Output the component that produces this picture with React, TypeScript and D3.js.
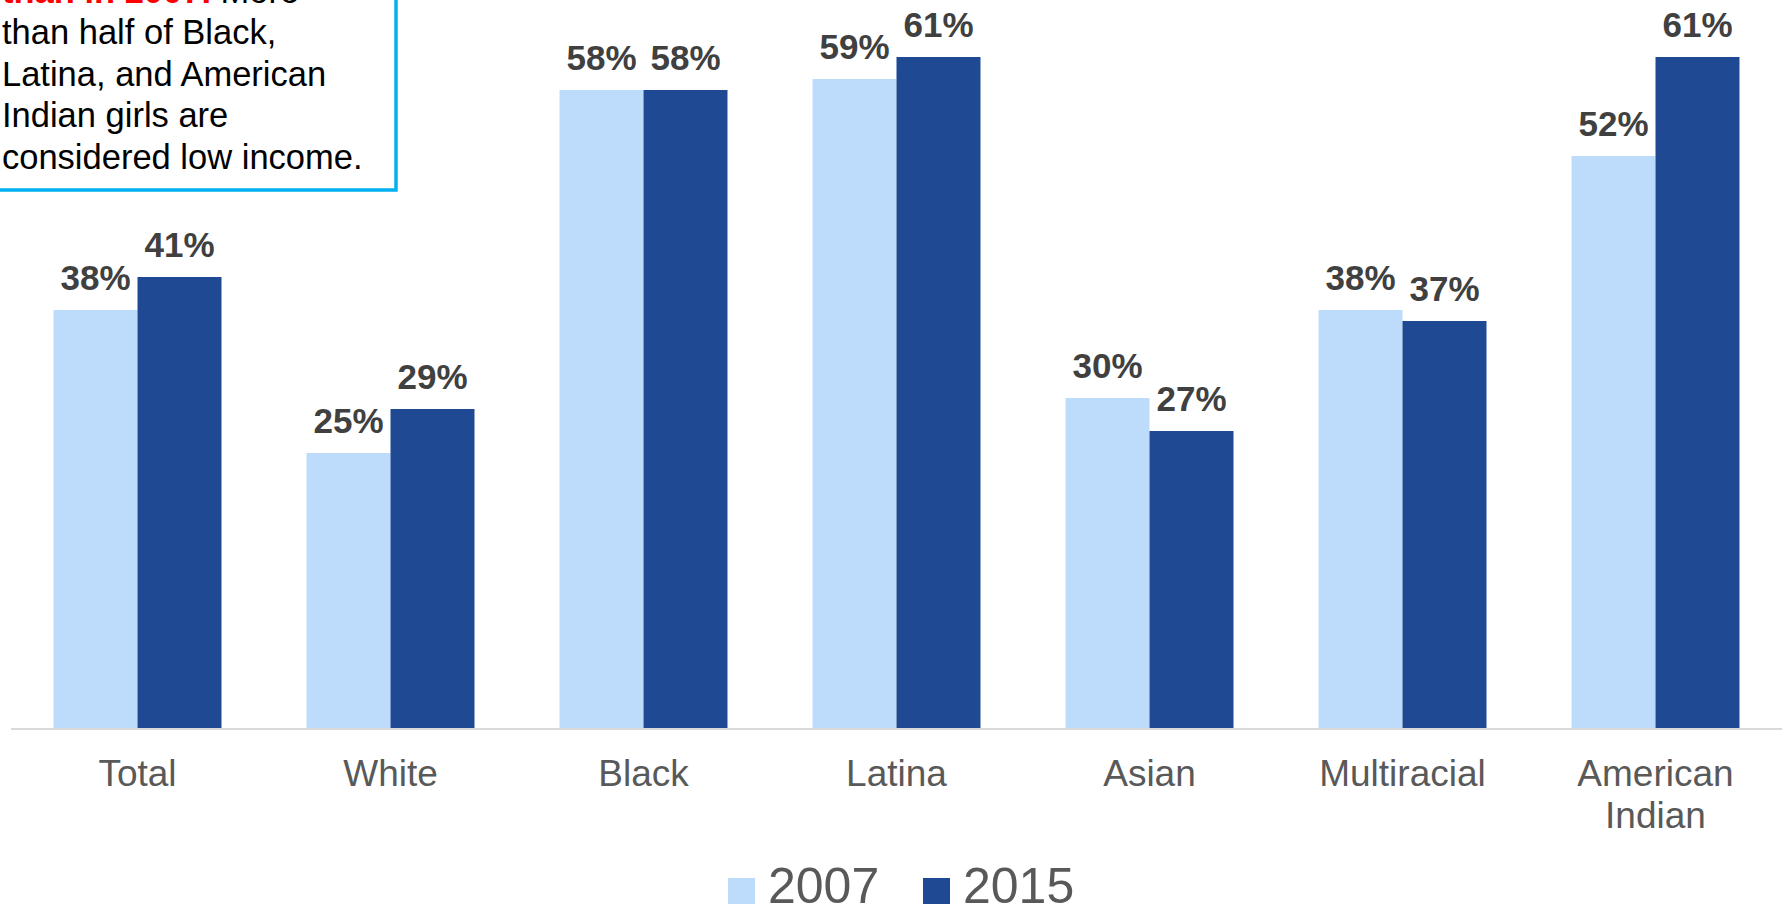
import React from "react";
import * as d3 from "d3";

const categories: string[][] = [
  ["Total"],
  ["White"],
  ["Black"],
  ["Latina"],
  ["Asian"],
  ["Multiracial"],
  ["American", "Indian"],
];
const seriesNames = ["2007", "2015"];
const values2007 = [0.38, 0.25, 0.58, 0.59, 0.3, 0.38, 0.52];
const values2015 = [0.41, 0.29, 0.58, 0.61, 0.27, 0.37, 0.61];
const seriesColors = ["#BDDCFC", "#1F4A93"];
const annotationLines = [
  "than half of Black,",
  "Latina, and American",
  "Indian girls are",
  "considered low income.",
];

const W = 1787;
const H = 912;
const FONT = "'Liberation Sans', Arial, sans-serif";

export default function App() {
  const catKeys = categories.map((c) => c.join(" "));
  const x = d3
    .scaleBand<string>()
    .domain(catKeys)
    .range([11, 1782])
    .paddingInner(0.336)
    .paddingOuter(0.168);
  const xs = d3.scaleBand<string>().domain(seriesNames).range([0, x.bandwidth()]);
  const baseY = 728;
  const y = d3.scaleLinear().domain([0, 0.7]).range([baseY, baseY - 770]);
  const series = [values2007, values2015];
  const fmt = d3.format(".0%");

  return (
    <svg
      width={W}
      height={H}
      style={{ position: "absolute", left: 0, top: 0, background: "#fff" }}
      fontFamily={FONT}
    >
      {/* bars */}
      {series.map((vals, si) =>
        vals.map((v, ci) => {
          const bx = (x(catKeys[ci]) as number) + (xs(seriesNames[si]) as number);
          return (
            <rect
              key={`b-${si}-${ci}`}
              x={bx}
              y={y(v)}
              width={xs.bandwidth()}
              height={baseY - y(v)}
              fill={seriesColors[si]}
            />
          );
        })
      )}
      {/* baseline */}
      <line x1={11} x2={1782} y1={baseY + 1} y2={baseY + 1} stroke="#D9D9D9" strokeWidth={2} />
      {/* data labels */}
      {series.map((vals, si) =>
        vals.map((v, ci) => {
          const cx =
            (x(catKeys[ci]) as number) + (xs(seriesNames[si]) as number) + xs.bandwidth() / 2;
          return (
            <text
              key={`l-${si}-${ci}`}
              x={cx}
              y={y(v) - 20}
              textAnchor="middle"
              fontSize={35}
              fontWeight="bold"
              fill="#404040"
            >
              {fmt(v)}
            </text>
          );
        })
      )}
      {/* category labels */}
      {categories.map((lines, ci) => (
        <text
          key={`c-${ci}`}
          x={(x(catKeys[ci]) as number) + x.bandwidth() / 2}
          y={786}
          textAnchor="middle"
          fontSize={37}
          fill="#595959"
        >
          {lines.map((ln, li) => (
            <tspan key={li} x={(x(catKeys[ci]) as number) + x.bandwidth() / 2} dy={li === 0 ? 0 : 42}>
              {ln}
            </tspan>
          ))}
        </text>
      ))}
      {/* legend */}
      {seriesNames.map((name, i) => {
        const lx = [728, 923][i];
        return (
          <g key={`lg-${i}`}>
            <rect x={lx} y={878} width={27} height={26} fill={seriesColors[i]} />
            <text x={lx + 40} y={903} fontSize={50} fill="#595959">
              {name}
            </text>
          </g>
        );
      })}
      {/* annotation box */}
      <rect x={-10} y={-100} width={406} height={290} fill="#fff" stroke="#00B0F0" strokeWidth={3.5} />
      <text x={2} y={3} fontSize={34.5} fill="#000">
        <tspan fill="#FF0000" fontWeight="bold">than in 2007.</tspan>
        <tspan> More</tspan>
      </text>
      {annotationLines.map((ln, i) => (
        <text key={`a-${i}`} x={2} y={44 + i * 41.7} fontSize={34.5} fill="#000">
          {ln}
        </text>
      ))}
    </svg>
  );
}
